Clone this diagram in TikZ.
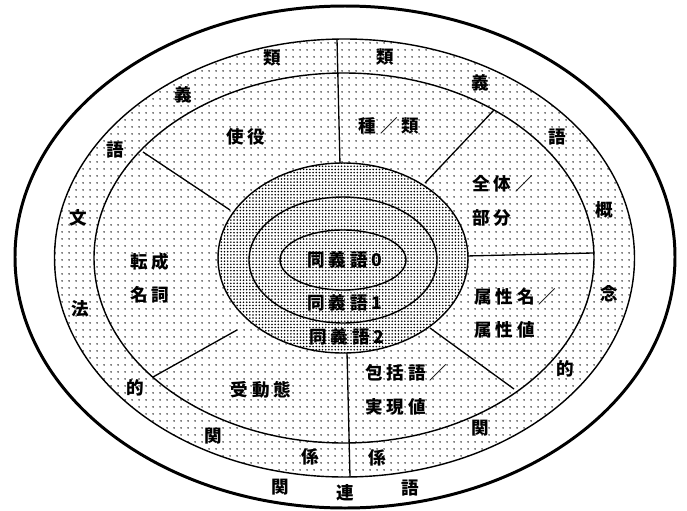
\documentclass[tikz,border=0pt]{standalone}
\usepackage{fontspec}
\usepackage{tikz}
\usetikzlibrary{patterns.meta}
\newfontfamily\jp[LetterSpace=22]{Noto Sans CJK JP}
\newfontfamily\jpone{Noto Sans CJK JP}

\begin{document}
\begin{tikzpicture}[x=0.02cm, y=-0.02cm,
        rim/.style={draw=black, line width=1.7pt},
        ring/.style={draw=black, line width=0.8pt},
        sparse/.style={pattern={Dots[distance=4pt, radius=0.5pt]}},
        dense/.style={pattern={Dots[distance=1.8pt, radius=0.5pt]}},
        spoke/.style={draw=black, line width=0.75pt},
        lbl/.style={font=\jp\bfseries\fontsize{10pt}{19pt}\selectfont, inner sep=0pt, text=black},
        ch/.style={font=\jpone\bfseries\fontsize{10pt}{19pt}\selectfont, inner sep=0pt, text=black}
    ]
    \useasboundingbox (0,0) rectangle (687,511);

    % rings
    \draw[rim] (345,257) ellipse [x radius=330, y radius=251];
    \draw[ring, sparse] (344.5,258) ellipse [x radius=290, y radius=219];
    \draw[ring] (344,258) ellipse [x radius=250, y radius=185];

    % spokes
    \coordinate (n0) at (340,165);   \coordinate (n1) at (337,39);
    \coordinate (ne0) at (425,183);  \coordinate (ne1) at (494,110);
    \coordinate (e0) at (466,256);   \coordinate (e1) at (593,253);
    \coordinate (se0) at (430,328);  \coordinate (se1) at (514,389);
    \coordinate (s0) at (347,352);   \coordinate (s1) at (350,477);
    \coordinate (sw0) at (237,330);  \coordinate (sw1) at (153,377);
    \coordinate (nw0) at (230,210);  \coordinate (nw1) at (143,152);
    \draw[spoke] (n0) -- (n1);
    \draw[spoke] (ne0) -- (ne1);
    \draw[spoke] (e0) -- (e1);
    \draw[spoke] (se0) -- (se1);
    \draw[spoke] (s0) -- (s1);
    \draw[spoke] (sw0) -- (sw1);
    \draw[spoke] (nw0) -- (nw1);

    % core
    \fill[white] (343,258) ellipse [x radius=125, y radius=95];
    \draw[ring, dense] (343,258) ellipse [x radius=125, y radius=95];
    \draw[ring] (343,260) ellipse [x radius=94, y radius=63];
    \draw[ring] (343,260) ellipse [x radius=63, y radius=30];

    \node[lbl] (syn0) at (345,260) {同義語0};
    \node[lbl] (syn1) at (345,303) {同義語1};
    \node[lbl] (syn2) at (347,337) {同義語2};

    % middle ring
    \node[lbl] (shieki) at (246,137) {使役};
    \node[lbl] (shurui) at (389,126) {種／類};
    \node[lbl, align=left, anchor=west] (zentai) at (472,201) {全体／\\部分};
    \node[lbl, align=left, anchor=west] (zokusei) at (474,313) {属性名／\\属性値};
    \node[lbl, align=left, anchor=west] (hokatsu) at (365,390) {包括語／\\実現値};
    \node[lbl] (judo) at (261,390) {受動態};
    \node[lbl, align=center] (tensei) at (150,278) {転成\\名詞};

    % outer ring
    \node[ch] (ruiL) at (272,58) {類};
    \node[ch] (giL) at (183,95) {義};
    \node[ch] (goL) at (115,150) {語};
    \node[ch] (bun) at (78,218) {文};
    \node[ch] (hou) at (80,309) {法};
    \node[ch] (tekiL) at (135,388) {的};
    \node[ch] (kanL) at (213,436) {関};
    \node[ch] (keiL) at (310,457) {係};
    \node[ch] (ruiR) at (385,57) {類};
    \node[ch] (giR) at (480,83) {義};
    \node[ch] (goR) at (557,137) {語};
    \node[ch] (gai) at (604,210) {概};
    \node[ch] (nen) at (609,294) {念};
    \node[ch] (tekiR) at (565,369) {的};
    \node[ch] (kanR) at (480,428) {関};
    \node[ch] (keiR) at (377,458) {係};

    % white band
    \node[ch] (kan) at (280,487) {関};
    \node[ch] (ren) at (345,493) {連};
    \node[ch] (go) at (410,488) {語};
\end{tikzpicture}
\end{document}
